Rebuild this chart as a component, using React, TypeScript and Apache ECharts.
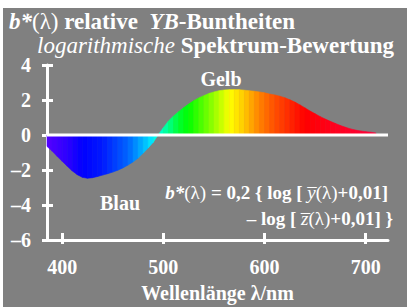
import React, { useEffect, useRef } from "react";
import * as echarts from "echarts";

// Wavelength (nm) and b*(λ) values
const wavelengths = [
  385, 390, 395, 400, 405, 410, 415, 420, 425, 430, 435, 440, 445, 450, 455, 460,
  465, 470, 475, 480, 485, 490, 495, 500, 505, 510, 515, 520, 525, 530, 535, 540,
  545, 550, 555, 560, 565, 570, 575, 580, 585, 590, 595, 600, 605, 610, 615, 620,
  625, 630, 635, 640, 645, 650, 655, 660, 665, 670, 675, 680, 685, 690, 695, 700,
  705, 710,
];
const bValues = [
  -0.65, -0.92, -1.22, -1.5, -1.78, -2.05, -2.27, -2.42, -2.47, -2.44, -2.37, -2.29,
  -2.21, -2.12, -2.01, -1.88, -1.72, -1.54, -1.32, -1.04, -0.74, -0.42, 0.02, 0.42,
  0.8, 1.08, 1.33, 1.56, 1.77, 1.96, 2.12, 2.25, 2.37, 2.46, 2.53, 2.57, 2.59, 2.59,
  2.59, 2.56, 2.53, 2.5, 2.46, 2.41, 2.34, 2.29, 2.22, 2.13, 2.01, 1.88, 1.72, 1.55,
  1.37, 1.21, 1.05, 0.91, 0.78, 0.66, 0.54, 0.44, 0.35, 0.28, 0.23, 0.19, 0.16, 0.12,
];
const xTickValues = [400, 500, 600, 700];
const xMin = 385;
const xMax = 722;
const yMin = -6;
const yMax = 4;
const yStep = 2;

const FONT = "Liberation Serif";
const WHITE = "#ffffff";
const GRAY = "#808080";

const colorAnchors: number[][] = [
  [385, 85, 0, 255],
  [405, 45, 0, 255],
  [420, 0, 0, 255],
  [440, 0, 25, 255],
  [465, 0, 100, 255],
  [480, 0, 180, 255],
  [490, 0, 240, 255],
  [495, 0, 255, 215],
  [505, 0, 255, 140],
  [515, 0, 255, 50],
  [525, 0, 255, 0],
  [545, 120, 255, 0],
  [566, 255, 255, 0],
  [580, 255, 200, 0],
  [595, 255, 130, 0],
  [610, 255, 80, 0],
  [625, 255, 40, 0],
  [640, 255, 0, 0],
  [670, 255, 0, 30],
  [712, 255, 0, 60],
];

function spectrumColor(wl: number): string {
  let a = colorAnchors[0];
  let b = colorAnchors[colorAnchors.length - 1];
  if (wl <= a[0]) b = a;
  else if (wl >= b[0]) a = b;
  else {
    for (let i = 0; i < colorAnchors.length - 1; i++) {
      if (wl >= colorAnchors[i][0] && wl <= colorAnchors[i + 1][0]) {
        a = colorAnchors[i];
        b = colorAnchors[i + 1];
        break;
      }
    }
  }
  const t = b[0] === a[0] ? 0 : (wl - a[0]) / (b[0] - a[0]);
  const c = [1, 2, 3].map((k) => Math.round(a[k] + (b[k] - a[k]) * t));
  return `rgb(${c[0]},${c[1]},${c[2]})`;
}

const richStyles = (size: number, lh: number) => ({
  bi: {
    font: `italic bold ${size}px "${FONT}"`,
    fontFamily: FONT, fontSize: size, fontWeight: "bold", fontStyle: "italic",
    fill: WHITE, lineHeight: lh,
  },
  b: {
    font: `normal bold ${size}px "${FONT}"`,
    fontFamily: FONT, fontSize: size, fontWeight: "bold", fontStyle: "normal",
    fill: WHITE, lineHeight: lh,
  },
  r: {
    font: `normal normal ${size}px "${FONT}"`,
    fontFamily: FONT, fontSize: size, fontWeight: "normal", fontStyle: "normal",
    fill: WHITE, lineHeight: lh,
  },
  i: {
    font: `italic normal ${size}px "${FONT}"`,
    fontFamily: FONT, fontSize: size, fontWeight: "normal", fontStyle: "italic",
    fill: WHITE, lineHeight: lh,
  },
});

export default function App() {
  const ref = useRef<HTMLDivElement>(null);
  useEffect(() => {
    document.body.style.margin = "0";
    const chart = echarts.init(ref.current!, null, { renderer: "svg" });
    const segments = wavelengths
      .slice(0, -1)
      .map((w, i) => [w, bValues[i], wavelengths[i + 1], bValues[i + 1]]);

    const axisLabelStyle = {
      color: WHITE,
      fontFamily: FONT,
      fontWeight: "bold",
      fontSize: 20,
    };

    chart.setOption({
      animation: false,
      backgroundColor: "#ffffff",
      grid: { left: 47, right: 25, top: 65, bottom: 54 },
      xAxis: [
        {
          type: "value",
          min: xMin,
          max: xMax,
          position: "bottom",
          axisLine: { show: true, onZero: false, lineStyle: { color: WHITE, width: 3 } },
          axisTick: {
            show: true,
            length: 4,
            customValues: xTickValues,
            lineStyle: { color: WHITE, width: 3 },
          },
          axisLabel: { ...axisLabelStyle, customValues: xTickValues, margin: 17 },
          splitLine: { show: false },
          name: "Wellenlänge λ/nm",
          nameLocation: "middle",
          nameGap: 43,
          nameTextStyle: { ...axisLabelStyle, fontSize: 20 },
        },
        {
          type: "value",
          min: xMin,
          max: xMax,
          position: "bottom",
          axisLine: { show: false, onZero: false },
          axisTick: {
            show: true,
            inside: true,
            length: 7,
            customValues: xTickValues,
            lineStyle: { color: WHITE, width: 3 },
          },
          axisLabel: { show: false },
          splitLine: { show: false },
        },
      ],
      yAxis: [
        {
          type: "value",
          min: yMin,
          max: yMax,
          interval: yStep,
          position: "left",
          axisLine: { show: true, onZero: false, lineStyle: { color: WHITE, width: 3 } },
          axisTick: { show: true, length: 5, lineStyle: { color: WHITE, width: 3 } },
          axisLabel: {
            ...axisLabelStyle,
            margin: 16,
            formatter: (v: number) => (v < 0 ? "–" + Math.abs(v) : String(v)),
          },
          splitLine: { show: false },
        },
        {
          type: "value",
          min: yMin,
          max: yMax,
          interval: yStep,
          position: "left",
          offset: 0,
          axisLine: { show: false, onZero: false },
          axisTick: { show: true, inside: true, length: 6, lineStyle: { color: WHITE, width: 3 } },
          axisLabel: { show: false },
          splitLine: { show: false },
        },
      ],
      series: [
        {
          type: "custom",
          xAxisIndex: 0,
          yAxisIndex: 0,
          encode: { x: [0, 2], y: [1, 3] },
          data: segments,
          z: 3,
          renderItem: (_params: any, api: any) => {
            const x0 = api.value(0);
            const y0 = api.value(1);
            const x1 = api.value(2);
            const y1 = api.value(3);
            const c = spectrumColor((x0 + x1) / 2);
            return {
              type: "polygon",
              shape: {
                points: [api.coord([x0, 0]), api.coord([x0, y0]), api.coord([x1, y1]), api.coord([x1, 0])],
              },
              style: { fill: c, stroke: c, lineWidth: 0.6 },
            };
          },
        },
        {
          type: "line",
          xAxisIndex: 0,
          yAxisIndex: 0,
          data: [
            [xMin, 0],
            [xMax, 0],
          ],
          symbol: "none",
          lineStyle: { color: WHITE, width: 3 },
          z: 5,
        },
      ],
      graphic: [
        {
          type: "rect",
          shape: { x: 3, y: 8, width: 404, height: 299 },
          style: { fill: GRAY },
          z: -100,
          silent: true,
        },
        {
          type: "text",
          x: 9,
          y: 33,
          z: 10,
          style: {
            text: "{bi|b*}{r|(λ)}{b| relative  }{bi|YB}{b|-Buntheiten}",
            rich: richStyles(23, 23),
            font: `bold 23px "${FONT}"`,
            verticalAlign: "bottom",
            align: "left",
          },
        },
        {
          type: "text",
          x: 37,
          y: 57,
          z: 10,
          style: {
            text: "{i|logarithmische} {b|Spektrum-Bewertung}",
            rich: richStyles(23, 23),
            font: `bold 23px "${FONT}"`,
            verticalAlign: "bottom",
            align: "left",
          },
        },
        {
          type: "text",
          x: 221,
          y: 89,
          z: 10,
          style: {
            text: "Gelb",
            fill: WHITE,
            font: `bold 20px "${FONT}"`,
            verticalAlign: "bottom",
            align: "center",
          },
        },
        {
          type: "text",
          x: 120,
          y: 213,
          z: 10,
          style: {
            text: "Blau",
            fill: WHITE,
            font: `bold 20px "${FONT}"`,
            verticalAlign: "bottom",
            align: "center",
          },
        },
        {
          type: "text",
          x: 388,
          y: 202,
          z: 10,
          style: {
            text: "{bi|b*}{r|(λ)}{b| = 0,2 { log [ }{i|y\u0305}{r|(λ)}{b|+0,01]}",
            rich: richStyles(19, 20),
            font: `bold 19px "${FONT}"`,
            verticalAlign: "bottom",
            align: "right",
          },
        },
        {
          type: "text",
          x: 393,
          y: 228,
          z: 10,
          style: {
            text: "{b|– log [ }{i|z\u0305}{r|(λ)}{b|+0,01] }}",
            font: `bold 19px "${FONT}"`,
            fill: WHITE,
            rich: richStyles(19, 20),
            verticalAlign: "bottom",
            align: "right",
          },
        },
      ],
    });
    return () => chart.dispose();
  }, []);
  return <div ref={ref} style={{ width: 413, height: 308, background: "#ffffff" }} />;
}
